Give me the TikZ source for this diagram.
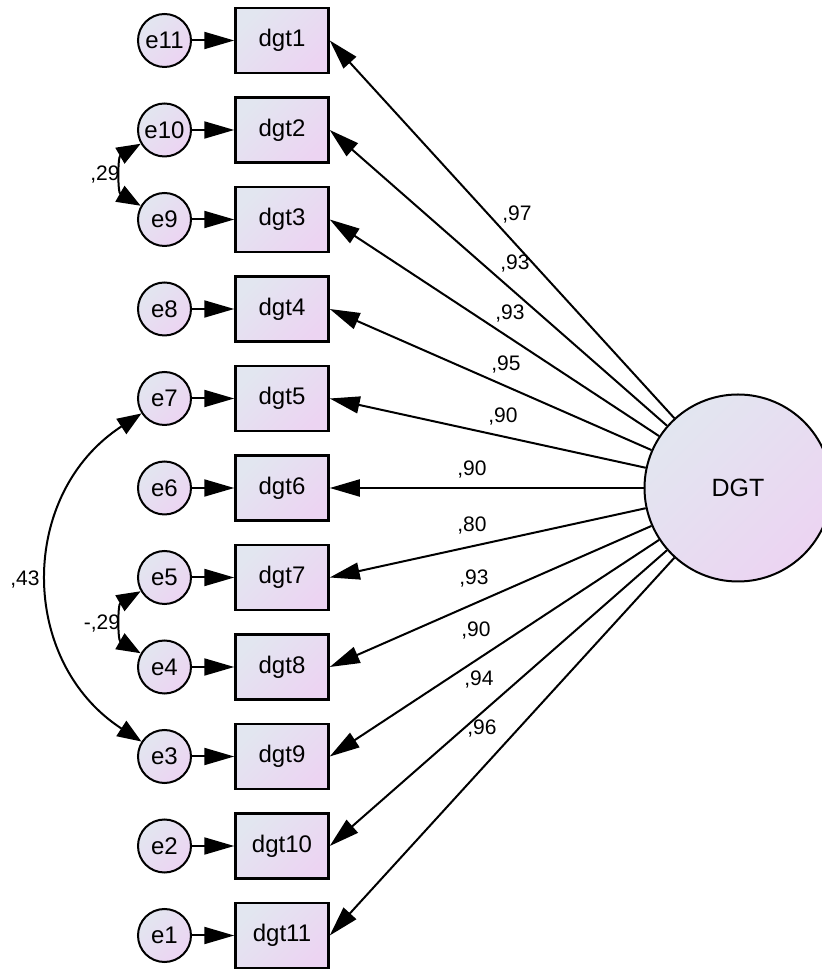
\documentclass[tikz,border=0pt]{standalone}
\usepackage{fontspec}
\setmainfont{Liberation Sans}
\usetikzlibrary{arrows.meta}
\definecolor{cA}{RGB}{226,230,240}
\definecolor{cB}{RGB}{236,212,242}
\begin{document}
\begin{tikzpicture}[x=1pt,y=1pt,
  gfill/.style={top color=cA, bottom color=cB, shading angle=45},
  obs/.style={draw, line width=2.5pt, gfill, minimum width=93pt, minimum height=65pt, inner sep=0pt, font=\fontsize{24}{28}\selectfont},
  err/.style={circle, draw, line width=2pt, gfill, minimum size=53pt, inner sep=0pt, font=\fontsize{24}{28}\selectfont},
  lat/.style={circle, draw, line width=2pt, gfill, minimum size=187pt, inner sep=0pt, font=\fontsize{25}{30}\selectfont},
  arr/.style={line width=2pt, -{Triangle[length=30pt,width=17pt]}},
  cov/.style={line width=2pt, {Triangle[length=24pt,width=18pt]}-{Triangle[length=24pt,width=18pt]}},
  lab/.style={font=\fontsize{21}{24}\selectfont, inner sep=0pt}]
\useasboundingbox (0,0) rectangle (822,972);
\clip (0,0) rectangle (822,972);
\node[lat] (DGT) at (738,484) {DGT};
\foreach \i/\e in {1/11,2/10,3/9,4/8,5/7,6/6,7/5,8/4,9/3,10/2,11/1}{
  \node[obs] (d\i) at (282,{931.5-89.5*(\i-1)}) {dgt\i};
  \node[err] (e\e) at (164.5,{931.5-89.5*(\i-1)}) {e\e};
  \draw[arr] (e\e) -- (d\i);
  \draw[arr] (DGT) -- (d\i.east);
}
\draw[cov] (e10) to[out=210,in=150,looseness=1.1] (e9);
\draw[cov] (e5) to[out=210,in=150,looseness=1.1] (e4);
\draw[cov] (e7) to[out=213,in=147,looseness=1.15] (e3);
\node[lab] (l1) at (517,757) {,97};
\node[lab] (l2) at (515,708) {,93};
\node[lab] (l3) at (510,658) {,93};
\node[lab] (l4) at (506,607) {,95};
\node[lab] (l5) at (503,555) {,90};
\node[lab] (l6) at (472,502) {,90};
\node[lab] (l7) at (472,446) {,80};
\node[lab] (l8) at (474,393) {,93};
\node[lab] (l9) at (476,341) {,90};
\node[lab] (l10) at (479,292) {,94};
\node[lab] (l11) at (482,243) {,96};
\node[lab] (c1) at (105,797) {,29};
\node[lab] (c2) at (102,348) {-,29};
\node[lab] (c3) at (25,392) {,43};
\end{tikzpicture}
\end{document}
